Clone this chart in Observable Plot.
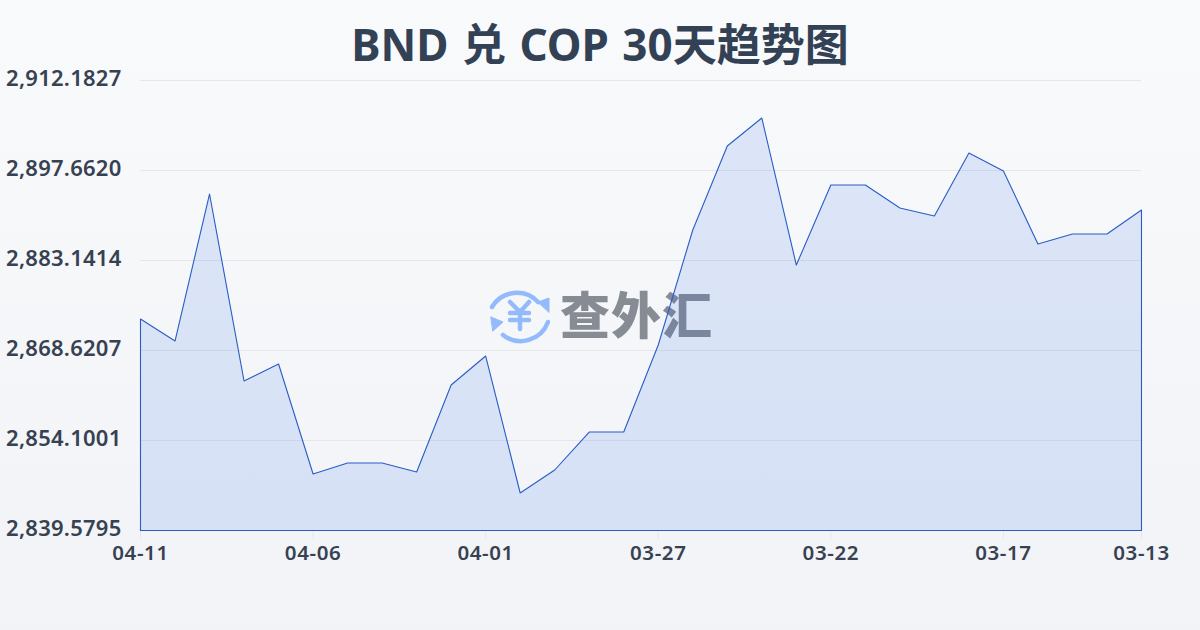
<!DOCTYPE html>
<html lang="zh">
<head>
<meta charset="utf-8">
<script src="https://cdn.jsdelivr.net/npm/d3@7"></script>
<script src="https://cdn.jsdelivr.net/npm/@observablehq/plot@0.6"></script>
<style>
html,body{margin:0;padding:0;width:1200px;height:630px;overflow:hidden}
body{background:linear-gradient(180deg,#f8fafc 0%,#f1f3f6 100%);position:relative;font-family:"Noto Sans","Noto Sans CJK SC",sans-serif}
#title{height:70px;line-height:88px;text-align:center;font-family:"Noto Sans","Noto Sans CJK SC",sans-serif;font-weight:700;font-size:44px;color:#334155;position:relative;z-index:2;white-space:pre;word-spacing:2px}
#wm{position:absolute;left:489px;top:285px;width:225px;height:60px;z-index:0;display:flex;align-items:center}
#wm span{font-family:"Noto Sans CJK SC",sans-serif;font-weight:900;font-size:50px;color:#868b94;letter-spacing:1px;margin-left:10px;line-height:60px;position:relative;top:-3px}
#chart{position:relative;z-index:1}
#chart svg{display:block;background:transparent;overflow:visible}
#chart g[aria-label="x-axis tick label"] text{letter-spacing:.6px}
#chart g[aria-label="y-axis tick label"] text{letter-spacing:.25px}
</style>
</head>
<body>
<div id="title">BND 兑 COP 30天趋势图</div>
<div id="wm">
<svg width="61" height="60" viewBox="0 0 61 60" fill="none" stroke="#93bbfb" stroke-width="4.500" stroke-linecap="round">
<path d="M3 22 A29 29 0 0 1 49 17"/>
<path d="M59 37 A29 29 0 0 1 14 50"/>
<path d="M49 17 L60 13 L60 27 Z" fill="#93bbfb" stroke="#93bbfb" stroke-width="1"/>
<path d="M2 32 L14 37 L4 46 Z" fill="#93bbfb" stroke="#93bbfb" stroke-width="1"/>
<path d="M21 17 L31 27 L40 17 M31 27 V44 M21 28 H40 M21 35 H40" stroke-width="4.500"/>
</svg>
<span>查外汇</span>
</div>
<div id="chart"></div>
<script>
const dates = ["04-11","04-10","04-09","04-08","04-07","04-06","04-05","04-04","04-03","04-02","04-01","03-31","03-30","03-29","03-28","03-27","03-26","03-25","03-24","03-23","03-22","03-21","03-20","03-19","03-18","03-17","03-16","03-15","03-14","03-13"];
const rates = [2873.70,2870.15,2893.87,2863.70,2866.44,2848.69,2850.47,2850.47,2849.02,2863.05,2867.73,2845.63,2849.34,2855.47,2855.47,2869.51,2888.06,2901.61,2906.13,2882.41,2895.32,2895.32,2891.61,2890.32,2900.48,2897.58,2885.80,2887.42,2887.42,2891.29];
const yTicks = [2839.5795,2854.1001,2868.6207,2883.1414,2897.6620,2912.1827];
const xTicks = ["04-11","04-06","04-01","03-27","03-22","03-17","03-13"];
const data = dates.map((d,i)=>({d,v:rates[i]}));
const base = yTicks[0];
const ink = "#374151";
const chart = Plot.plot({
  width:1200,height:560,marginTop:10,marginBottom:100,marginLeft:140,marginRight:59,
  style:{background:"transparent",fontFamily:'"Noto Sans","Noto Sans CJK SC",sans-serif'},
  x:{type:"point",domain:dates,padding:0,round:false,label:null},
  y:{domain:[base,yTicks[5]],label:null},
  marks:[
    Plot.ruleY(yTicks.slice(1),{stroke:"#e5e7eb",strokeWidth:1}),
    Plot.axisX({ticks:xTicks,tickSize:9,stroke:"#e5e7eb",tickPadding:6,fontSize:20.5,fontWeight:600,fill:ink,label:null}),
    Plot.areaY(data,{x:"d",y1:base,y2:"v",fill:"#2563eb",fillOpacity:0.13,stroke:"#2a5cc6",strokeOpacity:1,strokeWidth:1.1,dx:0.5,dy:0.5}),
    Plot.axisY({ticks:yTicks,tickSize:0,tickPadding:19,tickFormat:d=>d3.format(",.4f")(d),fontSize:22,fontWeight:600,fill:ink,dy:-2,label:null})
  ]
});
document.getElementById("chart").appendChild(chart);
</script>
</body>
</html>
